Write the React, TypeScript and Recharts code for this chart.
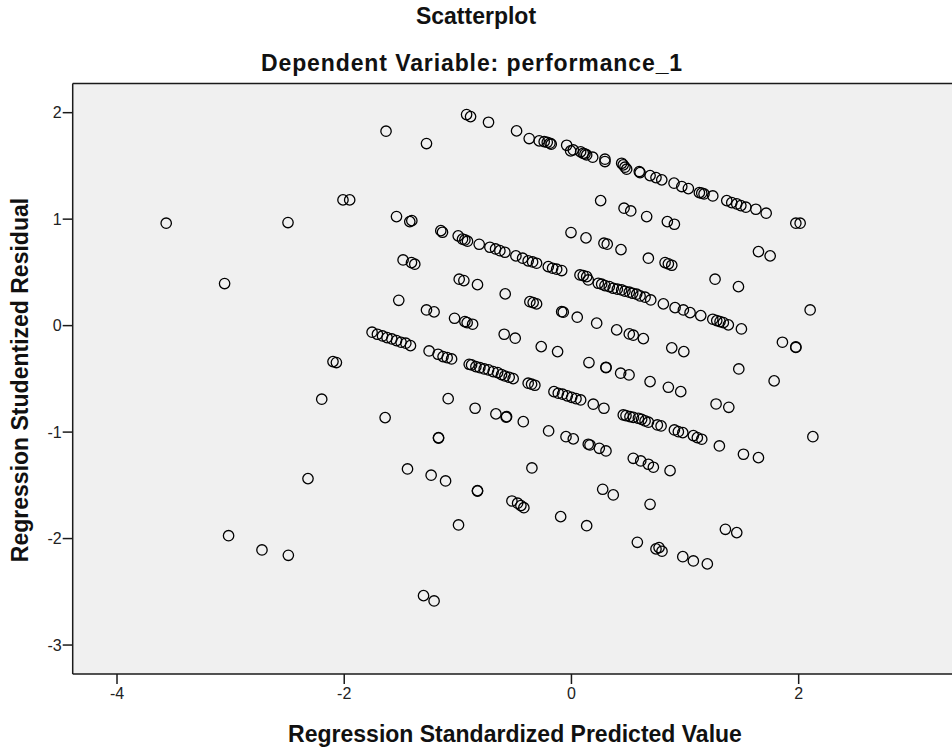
import React from "react";
import { ScatterChart, Scatter, XAxis, YAxis, CartesianGrid, ReferenceLine } from "recharts";

const TITLE = "Scatterplot";
const SUBTITLE = "Dependent Variable: performance_1";
const X_LABEL = "Regression Standardized Predicted Value";
const Y_LABEL = "Regression Studentized Residual";

const X_TICKS = [-4, -2, 0, 2];
const Y_TICKS = [-3, -2, -1, 0, 1, 2];
const X_DOMAIN: [number, number] = [-4.39, 3.42];
const Y_DOMAIN: [number, number] = [-3.272, 2.274];

// Regression standardized predicted value (x) and studentized residual (y)
const predicted = [
  -3.567, -3.053, -2.495, -2.011, -1.952, -2.099, -2.069, -2.198, -2.319, -3.018, -2.724, -2.492,
  -0.923, -0.888, -0.73, -1.632, -1.276, -0.483, -0.372, -0.284, -0.24, -0.213, -0.189, -0.178, -0.042, -0.007, 0.016, 0.081, 0.104, 0.119, 0.134, 0.187, 0.295, 0.295, 0.442, 0.456, 0.471, 0.486, 0.597, 0.604, 0.692, 0.744, 0.795, 0.903, 0.971, 1.029, 1.126, 1.147, 1.167, 1.244, 1.367, 1.411, 1.455, 1.491, 1.535, 1.623, 1.714, 1.975, 2.013,
  -1.54, -1.423, -1.405, -1.15, -1.135, -0.997, -0.959, -0.938, -0.915, -0.812, -0.718, -0.668, -0.63, -0.586, -0.489, -0.43, -0.381, -0.342, -0.307, -0.204, -0.166, -0.13, -0.086,
  0.075, 0.104, 0.134, 0.148, 0.236, 0.266, 0.295, 0.333, 0.368, 0.404, 0.442, 0.471, 0.509, 0.539, 0.574, 0.604, 0.648, 0.698, 0.809, 0.912, 0.985, 1.044, 1.138, 1.244, 1.279, 1.308, 1.337, 1.381, 1.496,
  -0.004, 0.128, 0.257, 0.463, 0.522, 0.662, 0.844, 0.906, 0.286, 0.315, 0.436, 0.677, 0.824, 0.853, 0.883, 1.646, 1.749, 1.264, 1.47, 2.101,
  -1.482, -1.408, -1.379, -0.988, -0.947, -0.827, -0.583, -0.366, -0.337, -0.307, -0.086, -0.072, 0.051, -1.52, -1.276, -1.209, -1.029, -0.938, -0.918, -0.87, -0.592, -0.495, -0.266, -0.122, 0.222, 0.398, 0.509, 0.544, 0.633, 0.883, 0.989, 1.857, 1.975, 1.975,
  -1.755, -1.708, -1.663, -1.623, -1.581, -1.54, -1.5, -1.458, -1.417, -1.253, -1.174, -1.13, -1.094, -1.055, -0.9, -0.879, -0.841, -0.806, -0.768, -0.73, -0.689, -0.65, -0.615, -0.586, -0.548, -0.513, -0.381, -0.351, -0.322, -0.154, -0.116, -0.078, -0.037, 0.002, 0.04, 0.081, 0.192, 0.286, 0.456, 0.48, 0.515, 0.545, 0.589, 0.618, 0.648, 0.677, 0.756, 0.789, 0.906, 0.941, 0.98, 1.073, 1.108, 1.147,
  0.154, 0.304, 0.304, 0.433, 0.507, 0.692, 0.853, 0.962, 1.473, 1.784, 1.273, 1.385,
  -1.085, -1.64, -0.848, -0.665, -0.571, -0.575, -0.424, -0.201, -0.048, 0.016, 0.148, -1.17, -1.17, -1.443, -1.235, -1.108, -0.827, -0.827, -0.524, -0.474, -0.445, -0.419, -0.348, -0.095, 0.134, -0.994, -1.302, -1.209,
  1.302, 1.514, 1.646, 2.125, 0.163, 0.245, 0.304, 0.544, 0.61, 0.677, 0.721, 0.868, 0.275, 0.368, 0.692, 1.355, 1.455, 0.58, 0.744, 0.771, 0.797, 0.98, 1.073, 1.196,
];

const residual = [
  0.962, 0.395, 0.968, 1.181, 1.181, -0.338, -0.347, -0.691, -1.437, -1.973, -2.107, -2.157,
  1.982, 1.963, 1.91, 1.826, 1.71, 1.829, 1.757, 1.735, 1.728, 1.722, 1.713, 1.704, 1.694, 1.641, 1.65, 1.632, 1.619, 1.612, 1.603, 1.582, 1.563, 1.541, 1.525, 1.51, 1.488, 1.469, 1.447, 1.437, 1.409, 1.39, 1.369, 1.338, 1.306, 1.287, 1.249, 1.244, 1.237, 1.218, 1.174, 1.155, 1.143, 1.127, 1.112, 1.093, 1.056, 0.962, 0.962,
  1.024, 0.977, 0.986, 0.892, 0.877, 0.843, 0.812, 0.805, 0.793, 0.764, 0.736, 0.72, 0.704, 0.689, 0.655, 0.633, 0.608, 0.598, 0.586, 0.554, 0.539, 0.53, 0.517,
  0.476, 0.47, 0.46, 0.429, 0.398, 0.389, 0.376, 0.366, 0.351, 0.342, 0.335, 0.323, 0.314, 0.304, 0.295, 0.279, 0.267, 0.241, 0.204, 0.169, 0.147, 0.122, 0.094, 0.06, 0.047, 0.038, 0.028, 0.007, -0.031,
  0.874, 0.824, 1.174, 1.103, 1.077, 1.024, 0.977, 0.952, 0.774, 0.765, 0.714, 0.633, 0.592, 0.58, 0.567, 0.695, 0.655, 0.436, 0.366, 0.147,
  0.617, 0.592, 0.577, 0.436, 0.423, 0.385, 0.298, 0.225, 0.216, 0.204, 0.131, 0.126, 0.079, 0.238, 0.147, 0.129, 0.069, 0.038, 0.028, 0.013, -0.081, -0.118, -0.197, -0.244, 0.023, -0.04, -0.078, -0.09, -0.122, -0.209, -0.244, -0.156, -0.2, -0.205,
  -0.062, -0.081, -0.097, -0.113, -0.125, -0.141, -0.156, -0.165, -0.188, -0.238, -0.269, -0.291, -0.301, -0.313, -0.363, -0.369, -0.385, -0.395, -0.407, -0.416, -0.432, -0.441, -0.46, -0.473, -0.485, -0.498, -0.541, -0.55, -0.56, -0.62, -0.635, -0.644, -0.66, -0.673, -0.686, -0.698, -0.738, -0.776, -0.839, -0.845, -0.855, -0.862, -0.87, -0.88, -0.895, -0.907, -0.933, -0.942, -0.98, -0.996, -1.005, -1.033, -1.052, -1.067,
  -0.347, -0.391, -0.395, -0.447, -0.463, -0.526, -0.579, -0.62, -0.407, -0.519, -0.736, -0.767,
  -0.686, -0.864, -0.776, -0.829, -0.855, -0.86, -0.902, -0.989, -1.043, -1.064, -1.114, -1.052, -1.056, -1.346, -1.405, -1.459, -1.55, -1.554, -1.647, -1.668, -1.69, -1.71, -1.337, -1.794, -1.879, -1.872, -2.536, -2.586,
  -1.13, -1.208, -1.24, -1.043, -1.121, -1.152, -1.177, -1.246, -1.271, -1.302, -1.33, -1.362, -1.537, -1.59, -1.678, -1.913, -1.944, -2.035, -2.097, -2.085, -2.119, -2.17, -2.21, -2.238,
];

const points = predicted.map((x, i) => ({ x, y: residual[i] }));

const FONT = "'Liberation Sans', Arial, Helvetica, sans-serif";

const Ring = (props: any) => {
  const { cx, cy } = props;
  if (cx == null || cy == null) return null;
  return <circle cx={cx} cy={cy} r={5.2} fill="none" stroke="#000" strokeWidth={1.3} />;
};

export default function App() {
  return (
    <div
      style={{
        position: "absolute",
        left: 0,
        top: 0,
        width: 952,
        height: 751,
        overflow: "hidden",
        background: "#fff",
        fontFamily: FONT,
      }}
    >
      <ScatterChart
        width={960}
        height={751}
        margin={{ top: 83.5, right: 0, bottom: 47, left: 12.7 }}
      >
        <CartesianGrid horizontal={false} vertical={false} fill="#f0f0f0" />
        <XAxis
          type="number"
          dataKey="x"
          domain={X_DOMAIN}
          ticks={X_TICKS}
          allowDataOverflow
          height={30}
          tickSize={10}
          tickMargin={4}
          axisLine={{ stroke: "#1a1a1a", strokeWidth: 1.5 }}
          tickLine={{ stroke: "#1a1a1a", strokeWidth: 1.5 }}
          tick={{ fill: "#222", fontSize: 16, fontFamily: FONT }}
        />
        <YAxis
          type="number"
          dataKey="y"
          domain={Y_DOMAIN}
          ticks={Y_TICKS}
          allowDataOverflow
          width={60}
          tickSize={10}
          tickMargin={1}
          axisLine={{ stroke: "#1a1a1a", strokeWidth: 1.5 }}
          tickLine={{ stroke: "#1a1a1a", strokeWidth: 1.5 }}
          tick={{ fill: "#222", fontSize: 16, fontFamily: FONT }}
        />
        <ReferenceLine y={Y_DOMAIN[1]} stroke="#1a1a1a" strokeWidth={1.5} />
        <Scatter data={points} shape={<Ring />} isAnimationActive={false} />
      </ScatterChart>
      <svg
        width={952}
        height={751}
        style={{ position: "absolute", left: 0, top: 0, pointerEvents: "none" }}
      >
        <text x={476} y={24} textAnchor="middle" fontFamily={FONT} fontWeight="bold" fontSize={23} fill="#111">
          {TITLE}
        </text>
        <text x={472} y={71} textAnchor="middle" fontFamily={FONT} fontWeight="bold" fontSize={23} letterSpacing={0.9} fill="#111">
          {SUBTITLE}
        </text>
        <text x={515} y={742} textAnchor="middle" fontFamily={FONT} fontWeight="bold" fontSize={23} fill="#111">
          {X_LABEL}
        </text>
        <text
          transform="translate(28,380) rotate(-90)"
          textAnchor="middle"
          fontFamily={FONT}
          fontWeight="bold"
          fontSize={23}
          fill="#111"
        >
          {Y_LABEL}
        </text>
      </svg>
    </div>
  );
}
